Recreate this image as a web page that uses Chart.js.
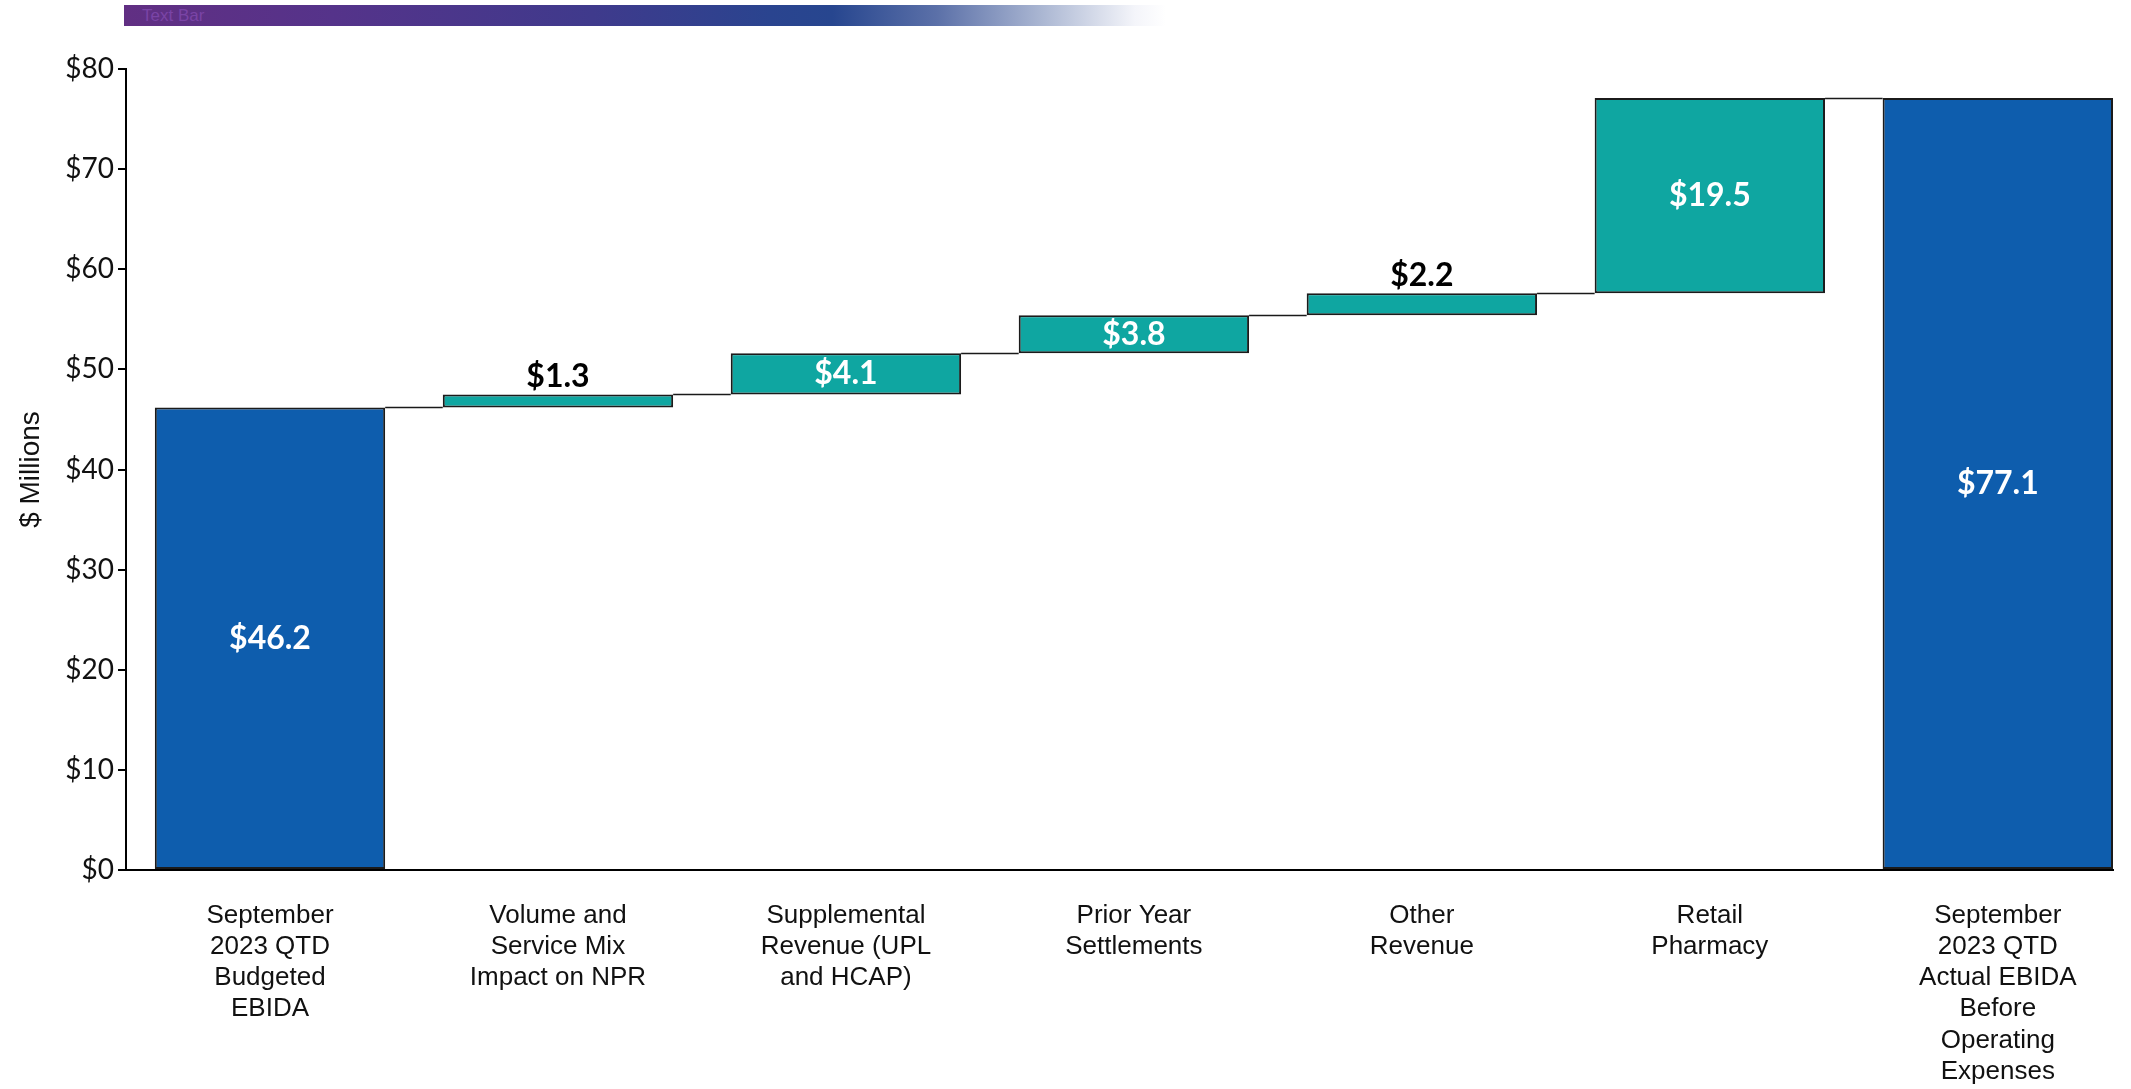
<!DOCTYPE html>
<html>
<head>
<meta charset="utf-8">
<title>EBIDA Waterfall</title>
<script src="https://cdn.jsdelivr.net/npm/chart.js@4.4.0/dist/chart.umd.min.js"></script>
<style>
  body { margin: 0; background: #fff; }
  #wrap { position: relative; width: 2131px; height: 1089px; }
  #topBar {
    position: absolute; left: 124px; top: 5px; width: 1042px; height: 21px;
    background: linear-gradient(to right, #612f83 0%, #55338a 20%, #3f3a8c 45%, #2a448f 62%, #27468f 68%, #5b70a8 78%, #aab6d2 88%, #f4f5fa 97%, #ffffff 100%);
  }
  #topBar span {
    position: absolute; left: 18px; top: 0px; font: 17px 'Liberation Sans', sans-serif;
    color: #7a44a6; line-height: 21px;
  }
  canvas { position: absolute; left: 0; top: 0; }
</style>
</head>
<body>
<div id="wrap">
  <div id="topBar"><span>Text Bar</span></div>
  <canvas id="waterfall" width="2131" height="1089"></canvas>
</div>
<script>
const categories = [
  ['September', '2023 QTD', 'Budgeted', 'EBIDA'],
  ['Volume and', 'Service Mix', 'Impact on NPR'],
  ['Supplemental', 'Revenue (UPL', 'and HCAP)'],
  ['Prior Year', 'Settlements'],
  ['Other', 'Revenue'],
  ['Retail', 'Pharmacy'],
  ['September', '2023 QTD', 'Actual EBIDA', 'Before', 'Operating', 'Expenses']
];
const changes = [46.2, 1.3, 4.1, 3.8, 2.2, 19.5, 77.1];
const isTotal = [true, false, false, false, false, false, true];
const valueLabels = ['$46.2', '$1.3', '$4.1', '$3.8', '$2.2', '$19.5', '$77.1'];

const totalColor = '#0e5dad';
const changeColor = '#0fa6a1';

// floating bars: totals start at zero, changes stack on the running level
let running = 0;
const floating = changes.map((v, i) => {
  if (isTotal[i]) { running = v; return { x: i, y: [0, v] }; }
  const start = running;
  running = Math.round((running + v) * 10) / 10;
  return { x: i, y: [start, running] };
});

const connectorPlugin = {
  id: 'connectors',
  afterDatasetsDraw(chart) {
    const { ctx, scales: { y } } = chart;
    const bars = chart.getDatasetMeta(0).data;
    ctx.save();
    ctx.strokeStyle = '#1a1a1a';
    ctx.lineWidth = 1.5;
    for (let i = 0; i < bars.length - 1; i++) {
      const level = floating[i].y[1];
      const py = Math.round(y.getPixelForValue(level)) + 0.5;
      const a = bars[i].getProps(['x', 'width']);
      const b = bars[i + 1].getProps(['x', 'width']);
      ctx.beginPath();
      ctx.moveTo(a.x + a.width / 2, py);
      ctx.lineTo(b.x - b.width / 2, py);
      ctx.stroke();
    }
    ctx.restore();
  }
};

const labelPlugin = {
  id: 'valueLabels',
  afterDatasetsDraw(chart) {
    const { ctx } = chart;
    const bars = chart.getDatasetMeta(0).data;
    ctx.save();
    ctx.font = 'bold 32px Lato, "Open Sans", sans-serif';
    ctx.textAlign = 'center';
    ctx.textBaseline = 'middle';
    bars.forEach((bar, i) => {
      const p = bar.getProps(['x', 'y', 'base']);
      const h = Math.abs(p.base - p.y);
      if (h > 30) {
        ctx.fillStyle = '#ffffff';
        ctx.fillText(valueLabels[i], p.x, (p.y + p.base) / 2);
      } else {
        ctx.fillStyle = '#000000';
        ctx.fillText(valueLabels[i], p.x, Math.min(p.y, p.base) - 18);
      }
    });
    ctx.restore();
  }
};

const ctx = document.getElementById('waterfall').getContext('2d');
new Chart(ctx, {
  type: 'bar',
  data: {
    datasets: [{
      data: floating,
      backgroundColor: isTotal.map(t => t ? totalColor : changeColor),
      borderColor: '#1b1b1b',
      borderWidth: 2,
      borderSkipped: false,
      barPercentage: 0.8,
      categoryPercentage: 1.0
    }]
  },
  options: {
    responsive: false,
    animation: false,
    layout: { padding: { top: 69, right: 18, left: 0, bottom: 0 } },
    plugins: {
      legend: { display: false },
      tooltip: { enabled: false }
    },
    scales: {
      x: {
        type: 'linear',
        offset: false,
        min: -0.5,
        max: 6.4,
        afterBuildTicks: axis => { axis.ticks = categories.map((c, i) => ({ value: i })); },
        afterFit: scale => { scale.height = 219; },
        grid: { display: false },
        border: { color: '#000', width: 2 },
        ticks: {
          autoSkip: false,
          maxRotation: 0,
          padding: 22,
          color: '#111',
          font: { family: '"Liberation Sans", sans-serif', size: 26, lineHeight: 1.2 },
          callback: v => categories[v] || ''
        }
      },
      y: {
        min: 0,
        max: 80,
        afterFit: scale => { scale.width = 126; },
        grid: { drawOnChartArea: false, color: '#000', lineWidth: 2, tickLength: 8 },
        border: { color: '#000', width: 2 },
        ticks: {
          stepSize: 10,
          padding: 4,
          color: '#111',
          font: { family: 'Lato, sans-serif', size: 28 },
          callback: v => '$' + v
        },
        title: {
          display: true,
          text: '$ Millions',
          color: '#111',
          padding: { top: 14, bottom: 0 },
          font: { family: '"Liberation Sans", sans-serif', size: 28 }
        }
      }
    }
  },
  plugins: [connectorPlugin, labelPlugin]
});
</script>
</body>
</html>
